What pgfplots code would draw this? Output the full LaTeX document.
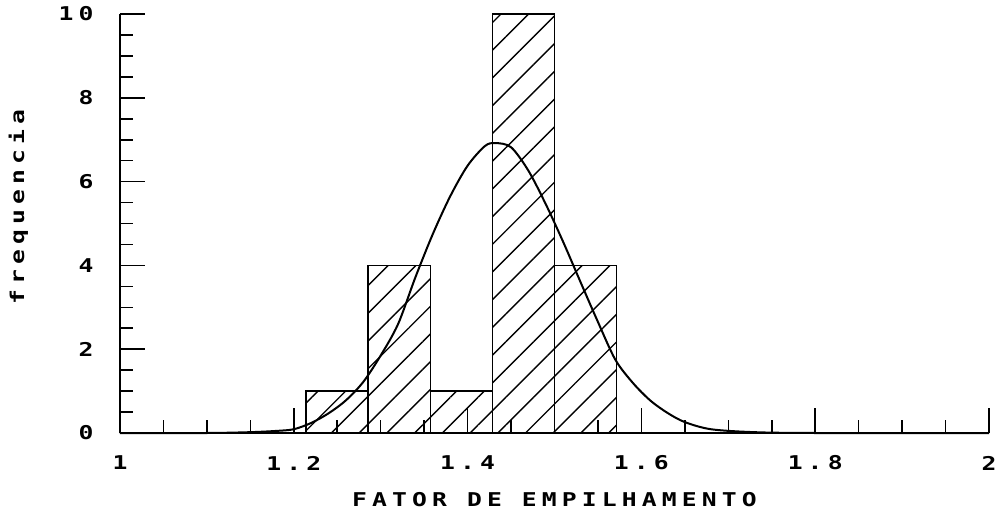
\documentclass[border=0pt]{standalone}
\usepackage{fontspec}
\usepackage{pgfplots}
\pgfplotsset{compat=1.18}
\usetikzlibrary{patterns.meta}
\newfontfamily\plotfont{DejaVu Sans Mono}[FakeStretch=1.3, LetterSpace=27]
\newcommand{\pf}{\plotfont\bfseries\fontsize{9.5}{10}\selectfont}
\begin{document}
\begin{tikzpicture}
\begin{axis}[
  scale only axis, width=434.5pt, height=209.5pt,
  xmin=1, xmax=2, ymin=0, ymax=10,
  axis lines*=left,
  clip=false,
  xtick={1,1.2,1.4,1.6,1.8,2},
  xticklabels={1,1.2,1.4,1.6,1.8,2},
  minor x tick num=3,
  ytick={0,2,4,6,8,10},
  yticklabels={0,2,4,6,8,10},
  minor y tick num=3,
  tick align=inside,
  major tick length=12.5pt, minor tick length=6.5pt,
  tick style={black, line width=0.8pt},
  axis line style={black, line width=1.1pt},
  xticklabel style={font=\pf, anchor=center, yshift=-15pt},
  yticklabel style={font=\pf, anchor=east, inner sep=0pt, xshift=-13pt},
  xlabel={FATOR DE EMPILHAMENTO},
  ylabel={frequencia},
  xlabel style={font=\pf, at={(axis description cs:0.5,-0.16)}, anchor=center},
  ylabel style={font=\pf, at={(axis description cs:-0.117,0.54)}, anchor=center},
]
\addplot[ybar interval, draw=black, line width=0.8pt,
  pattern={Lines[angle=45, distance=9.8pt, line width=0.7pt]}]
  coordinates {(1.2143,1) (1.2857,4) (1.3571,1) (1.4286,10) (1.5,4) (1.5714,4)};
\addplot[black, line width=1pt, smooth, tension=0.5] coordinates {
 (1.00,0) (1.10,0.00) (1.15,0.02) (1.18,0.05) (1.20,0.09) (1.22,0.24)
 (1.24,0.47) (1.26,0.78) (1.28,1.22) (1.30,1.85) (1.32,2.60) (1.34,3.72)
 (1.36,4.75) (1.38,5.65) (1.40,6.38) (1.42,6.85) (1.432,6.92) (1.45,6.82)
 (1.47,6.26) (1.49,5.46) (1.51,4.56) (1.53,3.60) (1.55,2.65) (1.57,1.75)
 (1.59,1.20) (1.61,0.78) (1.63,0.48) (1.65,0.26) (1.68,0.09) (1.73,0.02)
 (1.80,0) (2.00,0)};
\end{axis}
\pgfresetboundingbox
\path[use as bounding box] ([xshift=-60pt,yshift=-41pt]current axis.south west) rectangle ([xshift=6.5pt,yshift=7pt]current axis.north east);
\end{tikzpicture}
\end{document}
